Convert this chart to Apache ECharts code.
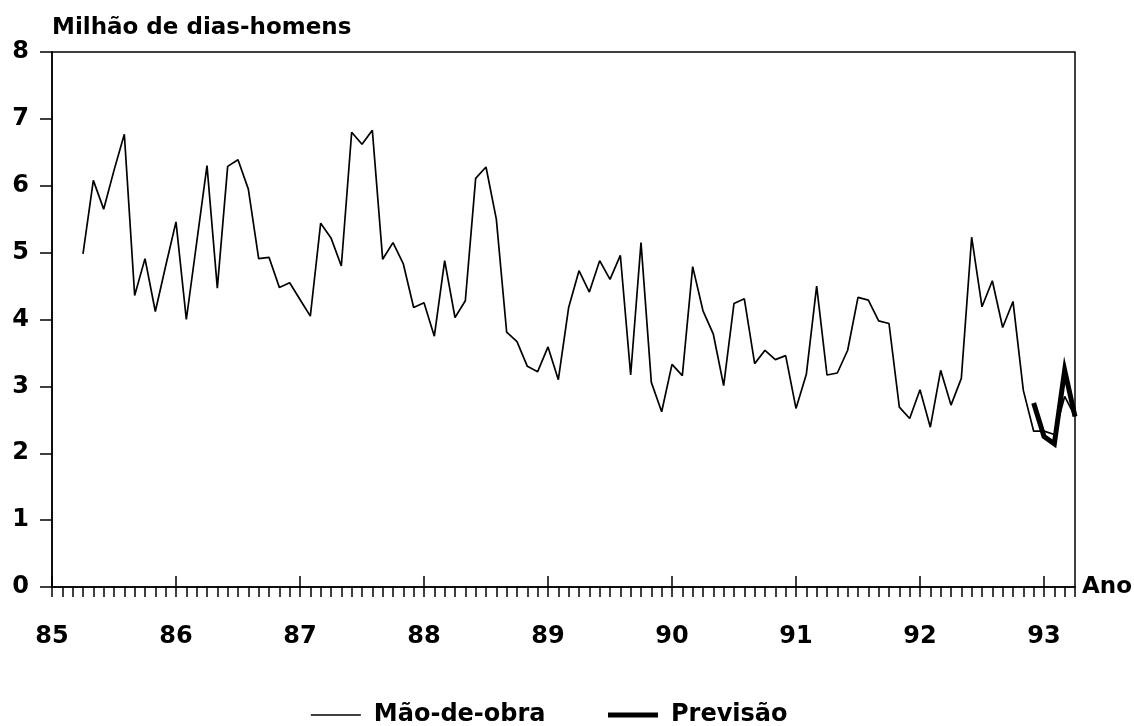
<!DOCTYPE html>
<html>
<head>
<meta charset="utf-8">
<title>Mão-de-obra</title>
<script src="https://cdn.jsdelivr.net/npm/echarts@6/dist/echarts.min.js"></script>
<style>
  html, body { margin: 0; padding: 0; background: #fff; }
  #chart { width: 1134px; height: 726px; }
</style>
</head>
<body>
<div id="chart"></div>
<script>
  // meses contados a partir de jan/85 (85 + mes/12)
  var firstMonth = 3
  var maoDeObra = [
    4.98, 6.08, 5.65, 6.23, 6.77, 4.36, 4.91, 4.12, 4.80,
    5.46, 4.00, 5.15, 6.30, 4.47, 6.29, 6.39, 5.95, 4.91, 4.93, 4.48, 4.55,
    4.30, 4.05, 5.44, 5.22, 4.80, 6.80, 6.62, 6.83, 4.90, 5.15, 4.83, 4.18,
    4.25, 3.75, 4.88, 4.03, 4.28, 6.11, 6.28, 5.50, 3.81, 3.67, 3.30, 3.22,
    3.59, 3.10, 4.18, 4.73, 4.41, 4.88, 4.60, 4.96, 3.17, 5.15, 3.06, 2.62,
    3.33, 3.16, 4.79, 4.13, 3.78, 3.01, 4.24, 4.31, 3.34, 3.54, 3.40, 3.46,
    2.67, 3.18, 4.50, 3.17, 3.20, 3.54, 4.33, 4.29, 3.98, 3.94, 2.69, 2.52,
    2.95, 2.39, 3.24, 2.72, 3.12, 5.23, 4.19, 4.58, 3.88, 4.27, 2.94, 2.33,
    2.33, 2.28, 2.85, 2.55
  ]
  var forecastFirstMonth = 95
  var previsao = [2.75, 2.25, 2.14, 3.24, 2.55]

  function toPairs (start, values) {
    return values.map(function (v, i) {
      return [85 + (start + i) / 12, v]
    })
  }

  var font = 'DejaVu Sans'
  var chart = echarts.init(document.getElementById('chart'))
  var option = {
    animation: false,
    backgroundColor: '#fff',
    textStyle: { fontFamily: font, color: '#000', fontWeight: 'bold' },
    grid: {
      left: 52,
      right: 59,
      top: 52,
      bottom: 139,
      containLabel: false,
      outerBoundsMode: 'none',
      show: true,
      borderColor: '#000',
      borderWidth: 1.5
    },
    legend: {
      left: 305,
      top: 698,
      itemWidth: 50,
      itemHeight: 22,
      itemGap: 60,
      itemStyle: { opacity: 0 },
      textStyle: {
        fontFamily: font,
        fontWeight: 'bold',
        fontSize: 24,
        color: '#000',
        padding: [0, 0, 0, 8]
      },
      data: [
        { name: 'Mão-de-obra', lineStyle: { width: 1.7 } },
        { name: 'Previsão', lineStyle: { width: 5 } }
      ]
    },
    xAxis: [
      {
        type: 'value',
        min: 85,
        max: 93.25,
        interval: 1,
        position: 'bottom',
        name: 'Ano',
        nameLocation: 'end',
        nameGap: 7,
        nameTextStyle: {
          fontFamily: font,
          fontWeight: 'bold',
          fontSize: 23,
          color: '#000',
          padding: [22, 0, 0, 0]
        },
        axisLine: { onZero: false, lineStyle: { color: '#000', width: 1.5 } },
        axisTick: { inside: true, length: 11, lineStyle: { color: '#000', width: 1.5 } },
        axisLabel: {
          margin: 38,
          fontFamily: font,
          fontWeight: 'bold',
          fontSize: 24,
          color: '#000',
          showMaxLabel: false,
          formatter: function (v) {
            return Number.isInteger(v) ? String(v) : ''
          }
        },
        splitLine: { show: false }
      },
      {
        // ticks mensais abaixo do eixo
        type: 'value',
        min: 85,
        max: 93.25,
        interval: 1 / 12,
        position: 'bottom',
        axisLine: { show: false },
        axisTick: { inside: false, length: 10, lineStyle: { color: '#000', width: 1.5 } },
        axisLabel: { show: false },
        splitLine: { show: false }
      }
    ],
    yAxis: {
      type: 'value',
      min: 0,
      max: 8,
      interval: 1,
      name: 'Milhão de dias-homens',
      nameLocation: 'end',
      nameGap: 12,
      nameTextStyle: {
        fontFamily: font,
        fontWeight: 'bold',
        fontSize: 23,
        color: '#000',
        align: 'left'
      },
      axisLine: { show: true, lineStyle: { color: '#000', width: 1.5 } },
      axisTick: { show: true, inside: false, length: 12, lineStyle: { color: '#000', width: 1.5 } },
      axisLabel: {
        margin: 23,
        fontFamily: font,
        fontWeight: 'bold',
        fontSize: 24,
        color: '#000'
      },
      splitLine: { show: false }
    },
    series: [
      {
        name: 'Mão-de-obra',
        type: 'line',
        xAxisIndex: 0,
        symbol: 'none',
        lineStyle: { color: '#000', width: 1.7 },
        itemStyle: { color: '#000' },
        data: toPairs(firstMonth, maoDeObra)
      },
      {
        name: 'Previsão',
        type: 'line',
        xAxisIndex: 0,
        symbol: 'none',
        z: 3,
        lineStyle: { color: '#000', width: 5, join: 'miter' },
        itemStyle: { color: '#000' },
        data: toPairs(forecastFirstMonth, previsao)
      }
    ]
  }
  chart.setOption(option)
</script>
</body>
</html>
